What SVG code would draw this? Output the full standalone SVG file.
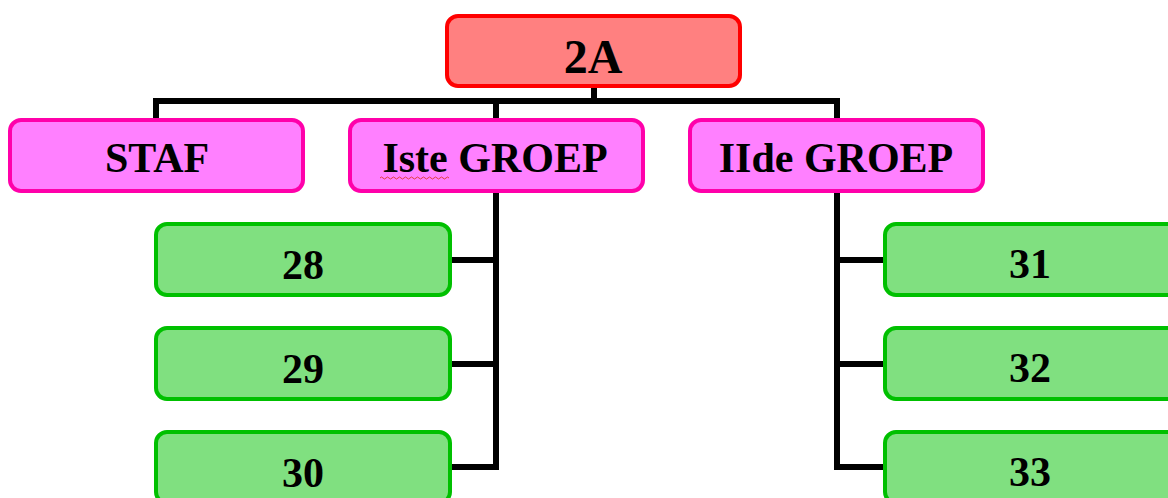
<svg xmlns="http://www.w3.org/2000/svg" width="1168" height="498" viewBox="0 0 1168 498">
<style>
.top{fill:#FF8080;stroke:#FF0000;stroke-width:4}
.mid{fill:#FF80FF;stroke:#FF00AA;stroke-width:4}
.leaf{fill:#80E080;stroke:#00C000;stroke-width:4}
.lbl{font-family:"Liberation Serif","Times New Roman",serif;font-weight:bold;font-size:42px;fill:#000;text-anchor:middle}
.conn{fill:none;stroke:#000;stroke-width:6;stroke-linejoin:miter}
</style>
<rect width="1168" height="498" fill="#fff"/>
<g id="connectors">
<path class="conn" d="M594,86 V101 M153,101 H839 M156,98 V118 M496,98 V118 M837,98 V118"/>
<path class="conn" d="M496,193 V467 H452 M496,260 H452 M496,364 H452"/>
<path class="conn" d="M837,193 V467 H883 M837,260 H883 M837,364 H883"/>
</g>
<g id="n2A"><rect class="top" x="447" y="16" width="293" height="70" rx="11"/><text class="lbl" x="593" y="73" style="font-size:48px">2A</text></g>
<g id="staf"><rect class="mid" x="10" y="120" width="293" height="71" rx="11"/><text class="lbl" x="157" y="172">STAF</text></g>
<g id="iste"><rect class="mid" x="350" y="120" width="293" height="71" rx="11"/><text class="lbl" x="495" y="172">Iste GROEP</text>
<path d="M380,178 q1.5,-2 3,0 t3,0 t3,0 t3,0 t3,0 t3,0 t3,0 t3,0 t3,0 t3,0 t3,0 t3,0 t3,0 t3,0 t3,0 t3,0 t3,0 t3,0 t3,0 t3,0 t3,0 t3,0 t3,0" fill="none" stroke="#E04040" stroke-width="1"/></g>
<g id="iide"><rect class="mid" x="690" y="120" width="293" height="71" rx="11"/><text class="lbl" x="836" y="172">IIde GROEP</text></g>
<g id="n28"><rect class="leaf" x="156" y="224" width="294" height="71" rx="11"/><text class="lbl" x="303" y="279">28</text></g>
<g id="n29"><rect class="leaf" x="156" y="328" width="294" height="71" rx="11"/><text class="lbl" x="303" y="383">29</text></g>
<g id="n30"><rect class="leaf" x="156" y="432" width="294" height="71" rx="11"/><text class="lbl" x="303" y="487">30</text></g>
<g id="n31"><rect class="leaf" x="885" y="224" width="294" height="71" rx="11"/><text class="lbl" x="1030" y="278">31</text></g>
<g id="n32"><rect class="leaf" x="885" y="328" width="294" height="71" rx="11"/><text class="lbl" x="1030" y="382">32</text></g>
<g id="n33"><rect class="leaf" x="885" y="432" width="294" height="71" rx="11"/><text class="lbl" x="1030" y="486">33</text></g>
</svg>
